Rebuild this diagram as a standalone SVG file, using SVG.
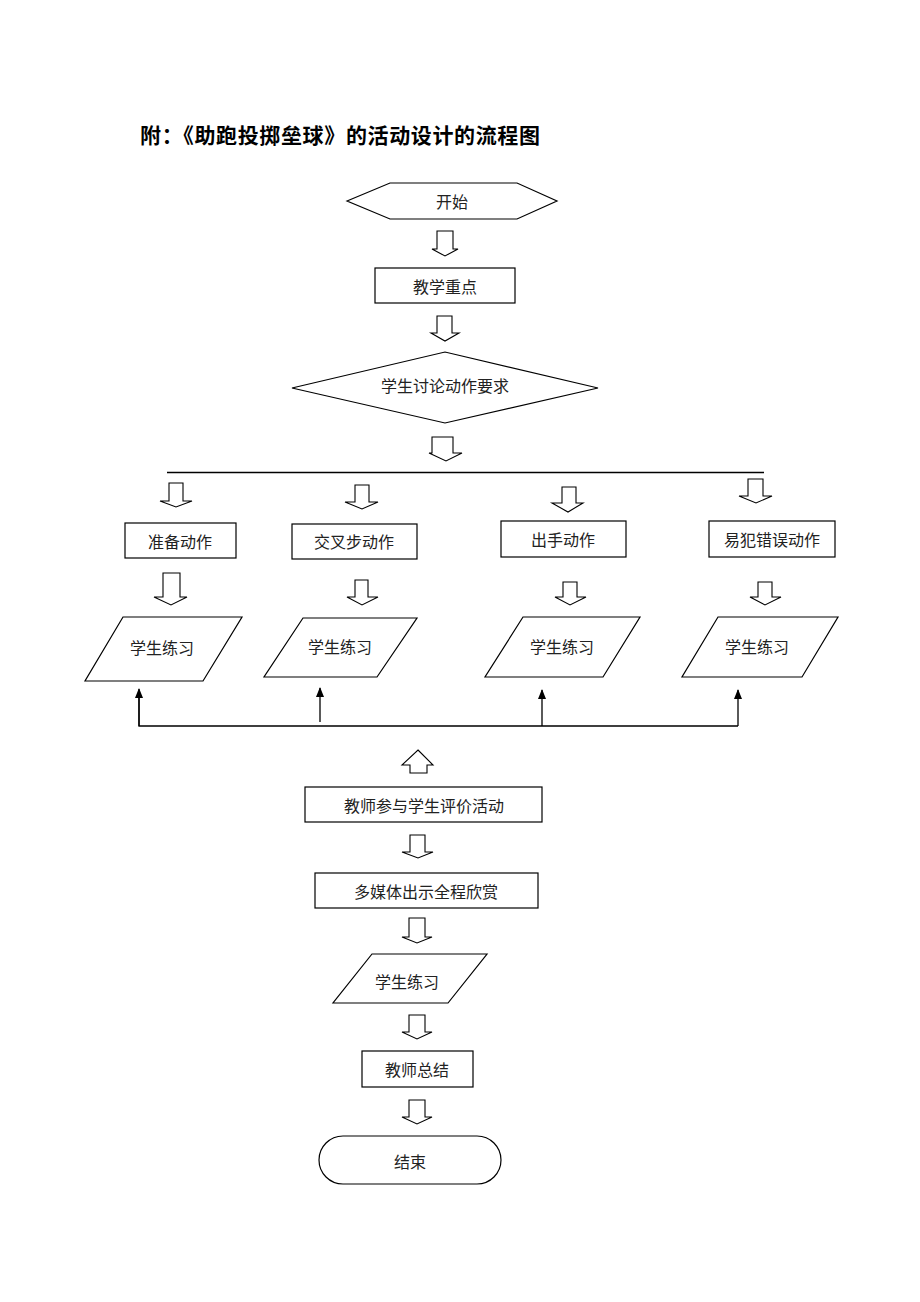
<svg xmlns="http://www.w3.org/2000/svg" width="920" height="1302" viewBox="0 0 920 1302">
<style>
.s{fill:#fff;stroke:#000;stroke-width:1.2}
.t{font-family:"Noto Sans CJK SC","Noto Sans CJK JP",sans-serif;font-size:16px;fill:#222;text-anchor:middle;dominant-baseline:central}
.ti{font-family:"Noto Sans CJK SC","Noto Sans CJK JP",sans-serif;font-size:21px;font-weight:bold;fill:#000}
.h{fill:#fff;stroke:#000;stroke-width:1.1}
.ln{fill:none;stroke:#000;stroke-width:1.3}
</style>
<defs>
<marker id="ah" markerWidth="10" markerHeight="8" refX="9" refY="4" orient="auto" markerUnits="userSpaceOnUse" viewBox="0 0 10 8">
<path d="M0,0 L10,4 L0,8 Z" fill="#000"/>
</marker>
</defs>
<rect width="920" height="1302" fill="#fff"/>
<text class="ti" x="140" y="143" textLength="400" lengthAdjust="spacing">附：《助跑投掷垒球》的活动设计的流程图</text>

<g id="start"><polygon class="s" points="347,201 390,183 517,183 557,201 517,219 390,219"/><text class="t" x="452" y="201">开始</text></g>
<g id="zhongdian"><rect class="s" x="375" y="268" width="140" height="35"/><text class="t" x="445" y="286">教学重点</text></g>
<g id="taolun"><polygon class="s" points="292,388 445,352 598,388 445,423"/><text class="t" x="445" y="385">学生讨论动作要求</text></g>
<g id="zhunbei"><rect class="s" x="125" y="523" width="111" height="35"/><text class="t" x="180" y="541">准备动作</text></g>
<g id="jiaocha"><rect class="s" x="292" y="524" width="125" height="35"/><text class="t" x="354" y="541">交叉步动作</text></g>
<g id="chushou"><rect class="s" x="501" y="521" width="125" height="36"/><text class="t" x="563" y="539">出手动作</text></g>
<g id="yifan"><rect class="s" x="709" y="521" width="126" height="36"/><text class="t" x="772" y="539">易犯错误动作</text></g>
<g id="lianxi1"><polygon class="s" points="123,617 242,617 203,681 85,681"/><text class="t" x="162" y="647">学生练习</text></g>
<g id="lianxi2"><polygon class="s" points="303,618 417,618 377,677 264,677"/><text class="t" x="340" y="646">学生练习</text></g>
<g id="lianxi3"><polygon class="s" points="523,617 640,617 603,677 485,677"/><text class="t" x="562" y="646">学生练习</text></g>
<g id="lianxi4"><polygon class="s" points="718,617 838,617 802,677 682,677"/><text class="t" x="757" y="646">学生练习</text></g>
<g id="pingjia"><rect class="s" x="305" y="787" width="237" height="35"/><text class="t" x="424" y="805">教师参与学生评价活动</text></g>
<g id="meiti"><rect class="s" x="315" y="873" width="223" height="35"/><text class="t" x="426" y="891">多媒体出示全程欣赏</text></g>
<g id="lianxi5"><polygon class="s" points="372,954 487,954 448,1003 333,1003"/><text class="t" x="407" y="981">学生练习</text></g>
<g id="zongjie"><rect class="s" x="362" y="1051" width="111" height="36"/><text class="t" x="417" y="1069">教师总结</text></g>
<g id="end"><rect class="s" x="319" y="1136" width="182" height="48" rx="24" ry="24"/><text class="t" x="410" y="1161">结束</text></g>

<g id="connectors">
<polygon class="h" points="437,231 453,231 453,249 458,249 445,256 432,249 437,249"/>
<polygon class="h" points="437,316 452,316 452,333 459,333 445,341 431,333 437,333"/>
<polygon class="h" points="432,437 453,437 453,453 462,453 446,461 429,453 432,453"/>
<line class="ln" x1="167" y1="472.5" x2="764" y2="472.5"/>
<polygon class="h" points="169,483 183,483 183,501 192,501 176,507 160,501 169,501"/>
<polygon class="h" points="355,485 369,485 369,502 378,502 362,509 345,502 355,502"/>
<polygon class="h" points="562,487 576,487 576,503 583,503 568,512 552,503 562,503"/>
<polygon class="h" points="748,479 763,479 763,496 772,496 756,503 739,496 748,496"/>
<polygon class="h" points="163,573 180,573 180,597 187,597 171,605 154,597 163,597"/>
<polygon class="h" points="355,580 368,580 368,597 378,597 362,605 347,597 355,597"/>
<polygon class="h" points="563,582 577,582 577,597 586,597 570,605 555,597 563,597"/>
<polygon class="h" points="758,582 772,582 772,597 781,597 765,605 750,597 758,597"/>
<polyline class="ln" points="139,698 139,726 738,726"/>
<line class="ln" x1="139" y1="726" x2="139" y2="689" marker-end="url(#ah)"/>
<line class="ln" x1="320" y1="722" x2="320" y2="688" marker-end="url(#ah)"/>
<line class="ln" x1="542" y1="726" x2="542" y2="690" marker-end="url(#ah)"/>
<line class="ln" x1="738" y1="726" x2="738" y2="690" marker-end="url(#ah)"/>
<polygon class="h" points="418,750 433,765 427,765 427,773 410,773 410,765 402,765"/>
<polygon class="h" points="410,835 425,835 425,852 433,852 418,858 402,852 410,852"/>
<polygon class="h" points="409,918 425,918 425,937 432,937 417,943 402,937 409,937"/>
<polygon class="h" points="409,1015 425,1015 425,1032 432,1032 417,1039 402,1032 409,1032"/>
<polygon class="h" points="409,1100 425,1100 425,1117 432,1117 417,1124 402,1117 409,1117"/>
</g>
</svg>
